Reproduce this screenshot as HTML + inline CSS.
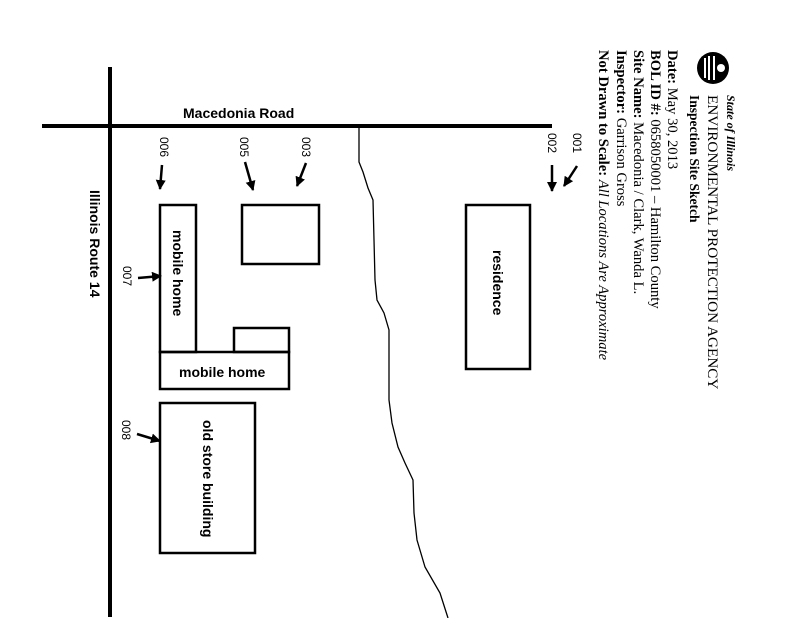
<!DOCTYPE html>
<html><head><style>html,body{margin:0;padding:0;background:#fff}svg{display:block}</style></head>
<body>
<svg width="800" height="618" viewBox="0 0 800 618" xmlns="http://www.w3.org/2000/svg">
<defs><marker id="ah" viewBox="0 0 10 10" refX="9" refY="5" markerWidth="4" markerHeight="4" orient="auto"><path d="M0,0 L10,5 L0,10 z" fill="#000"/></marker></defs>
<rect x="108" y="67" width="4" height="550" fill="#000"/>
<rect x="42" y="124" width="510" height="4" fill="#000"/>
<text x="183" y="118" font-family="Liberation Sans, sans-serif" font-weight="bold" font-size="14">Macedonia Road</text>
<text transform="translate(90,190) rotate(90)" font-family="Liberation Sans, sans-serif" font-weight="bold" font-size="14">Illinois Route 14</text>
<polyline fill="none" stroke="#000" stroke-width="1.3" points="359,128 359,162 363,172 368,188 373,200 374,240 375,280 377,300 384,313 389,330 389,400 392,423 398,447 405,463 413,480 414,513 417,540 425,567 440,593 448,618"/>
<g fill="none" stroke="#000" stroke-width="2.5">
<rect x="160" y="205" width="36" height="147"/>
<rect x="242" y="205" width="77" height="59"/>
<rect x="466" y="205" width="64" height="164"/>
<rect x="234" y="328" width="55" height="24"/>
<rect x="160" y="352" width="129" height="37"/>
<rect x="160" y="403" width="95" height="150"/>
</g>
<g font-family="Liberation Sans, sans-serif" font-weight="bold" font-size="14">
<text transform="translate(173,230) rotate(90)">mobile home</text>
<text x="179" y="377">mobile home</text>
<text transform="translate(493,250) rotate(90)">residence</text>
<text transform="translate(203,420) rotate(90)">old store building</text>
</g>
<g font-family="Liberation Sans, sans-serif" font-size="12">
<text transform="translate(160,137) rotate(90)">006</text>
<text transform="translate(240,137) rotate(90)">005</text>
<text transform="translate(302,137) rotate(90)">003</text>
<text transform="translate(548,133) rotate(90)">002</text>
<text transform="translate(573,133) rotate(90)">001</text>
<text transform="translate(123,266) rotate(90)">007</text>
<text transform="translate(122,420) rotate(90)">008</text>
</g>
<g stroke="#000" stroke-width="2.5" marker-end="url(#ah)">
<line x1="162" y1="165" x2="160" y2="189"/>
<line x1="245" y1="162" x2="253" y2="190"/>
<line x1="306" y1="163" x2="297" y2="186"/>
<line x1="552" y1="165" x2="552" y2="191"/>
<line x1="577" y1="166" x2="564" y2="186"/>
<line x1="138" y1="278" x2="161" y2="276"/>
<line x1="137" y1="434" x2="160" y2="441"/>
</g>
<circle cx="713" cy="68" r="16" fill="#000"/>
<g fill="#fff"><rect x="704" y="58" width="2" height="20"/><rect x="708" y="56" width="2" height="24"/><rect x="713" y="56" width="2" height="24"/><circle cx="721" cy="68" r="4"/></g>
<g font-family="Liberation Serif, serif">
<text transform="translate(727,95) rotate(90)" font-size="12" font-weight="bold" font-style="italic">State of Illinois</text>
<text transform="translate(708,95) rotate(90)" font-size="15.2">ENVIRONMENTAL PROTECTION AGENCY</text>
<text transform="translate(690,95) rotate(90)" font-size="13.5" font-weight="bold">Inspection Site Sketch</text>
<text transform="translate(668,50) rotate(90)" font-size="14.6"><tspan font-weight="bold">Date:</tspan> May 30, 2013</text>
<text transform="translate(651,50) rotate(90)" font-size="14.6"><tspan font-weight="bold">BOL ID #:</tspan> 0658050001 – Hamilton County</text>
<text transform="translate(634,50) rotate(90)" font-size="14.6"><tspan font-weight="bold">Site Name:</tspan> Macedonia / Clark, Wanda L.</text>
<text transform="translate(617,50) rotate(90)" font-size="14.6"><tspan font-weight="bold">Inspector:</tspan> Garrison Gross</text>
<text transform="translate(599,50) rotate(90)" font-size="14.6"><tspan font-weight="bold">Not Drawn to Scale:</tspan> <tspan font-style="italic">All Locations Are Approximate</tspan></text>
</g>
</svg>
</body></html>
